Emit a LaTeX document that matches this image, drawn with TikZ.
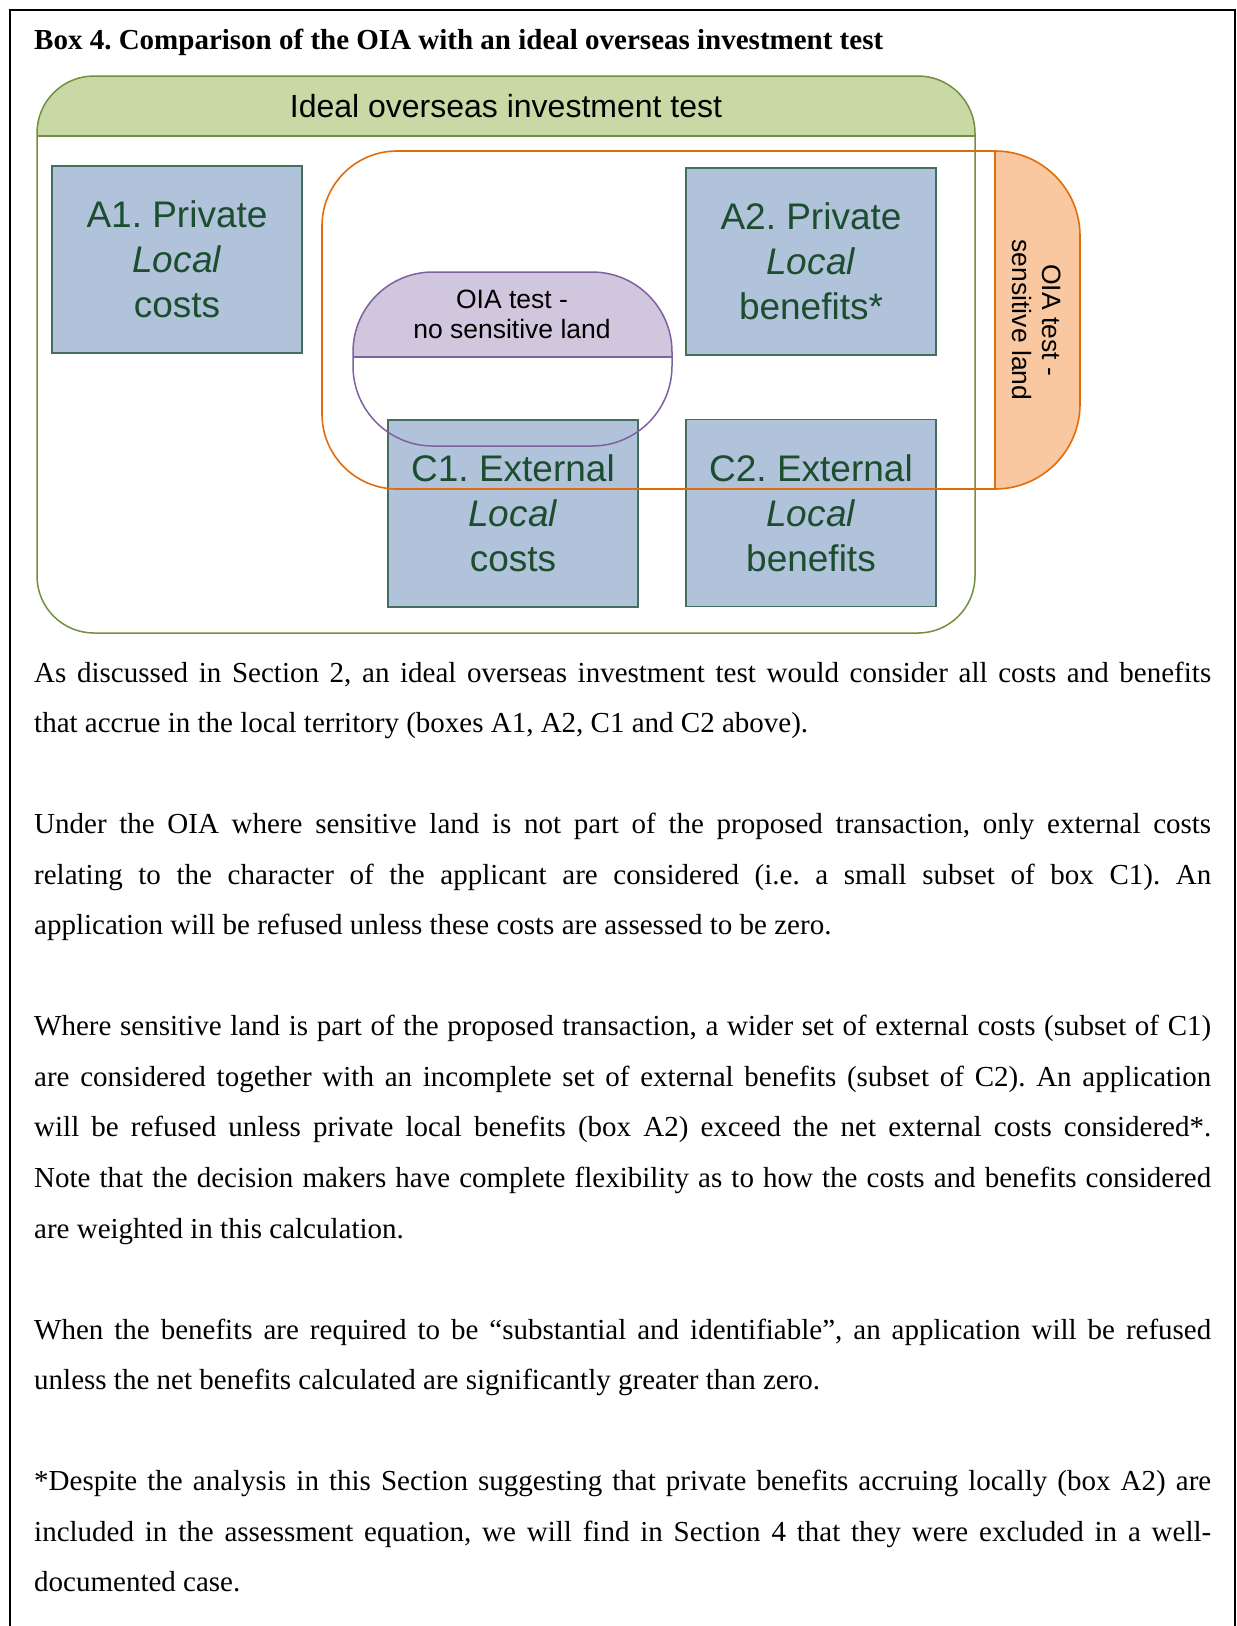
\documentclass[tikz,border=0pt]{standalone}
\usepackage{fontspec}
\setmainfont{Liberation Serif}
\newfontfamily\arialf{Liberation Sans}
\definecolor{boxfill}{HTML}{B0C3DB}
\definecolor{boxdraw}{HTML}{466E5F}
\definecolor{textgreen}{HTML}{1B4D2E}
\definecolor{greenfill}{HTML}{C8D9A6}
\definecolor{greendraw}{HTML}{73903F}
\definecolor{orangedraw}{HTML}{E36C0A}
\definecolor{orangefill}{HTML}{FAC8A0}
\definecolor{purpfill}{HTML}{D0C6DD}
\definecolor{purpdraw}{HTML}{7E62A0}
\frenchspacing
\begin{document}
\frenchspacing
\begin{tikzpicture}[x=1pt,y=-1pt,
  blk/.style={draw=boxdraw, fill=boxfill, line width=1.1pt, minimum width=250pt, minimum height=187pt,
    align=center, text=textgreen, font=\arialf\fontsize{37}{45}\selectfont, inner sep=0pt},
  lbl/.style={align=center, text=black, font=\arialf\fontsize{26.5}{30}\selectfont, inner sep=0pt},
  bodyj/.style={anchor=base west, inner sep=0pt, font=\fontsize{29}{34}\selectfont\frenchspacing},
]
\useasboundingbox (0,0) rectangle (1237,1626);
\fill[white] (0,0) rectangle (1237,1626);
% frame
\draw[line width=1.8pt] (10,1660) -- (10,10) -- (1235,10) -- (1235,1660);
% title
\node[anchor=base west, inner sep=0pt, font=\bfseries\fontsize{29}{34}\selectfont] (title) at (34,49)
  {Box 4. Comparison of the OIA with an ideal overseas investment test};
% green box
\fill[white, rounded corners=57pt] (37,76) rectangle (975,633);
\begin{scope}
  \clip (0,0) rectangle (1237,136);
  \fill[greenfill, rounded corners=57pt] (37,76) rectangle (975,633);
\end{scope}
\draw[greendraw, line width=1.5pt] (37,136) -- (975,136);
\draw[greendraw, line width=1.5pt, rounded corners=57pt] (37,76) rectangle (975,633);
\node[lbl, font=\arialf\fontsize{32}{36}\selectfont] (ideal) at (506,106) {Ideal overseas investment test};
% blue boxes
\node[blk] (a1) at (177,259.5) {A1. Private\\\textit{Local}\\costs};
\node[blk] (a2) at (811,261.5) {A2. Private\\\textit{Local}\\benefits*};
\node[blk] (c1) at (513,513.5) {C1. External\\\textit{Local}\\costs};
\node[blk] (c2) at (811,513) {C2. External\\\textit{Local}\\benefits};
% orange shape
\def\orangepath{(700,151) [rounded corners=75pt] -- (322,151) -- (322,489) -- (700,489) [rounded corners=85pt] -- (1080,489) -- (1080,151) -- cycle}
\begin{scope}
  \clip (995,100) rectangle (1200,600);
  \fill[orangefill] \orangepath;
\end{scope}
\draw[orangedraw, line width=1.6pt] \orangepath;
\draw[orangedraw, line width=1.6pt] (995,151) -- (995,489);
\node[lbl, rotate=-90] (sens) at (1037,320) {OIA test -\\sensitive land};
% purple shape
\begin{scope}
  \clip (0,0) rectangle (1237,357);
  \fill[purpfill, rounded corners=80pt] (353,272) rectangle (672,446);
\end{scope}
\draw[purpdraw, line width=1.5pt, rounded corners=80pt] (353,272) rectangle (672,446);
\draw[purpdraw, line width=1.5pt] (353,357) -- (672,357);
\node[lbl] (nosens) at (512,314) {OIA test -\\no sensitive land};
% body text
\node[bodyj] (t1) at (34,682) {\makebox[1177pt][s]{As discussed in Section 2, an ideal overseas investment test would consider all costs and benefits}};
\node[bodyj] (t2) at (34,732.55) {that accrue in the local territory (boxes A1, A2, C1 and C2 above).};
\node[bodyj] (t3) at (34,833.65) {\makebox[1177pt][s]{Under the OIA where sensitive land is not part of the proposed transaction, only external costs}};
\node[bodyj] (t4) at (34,884.2) {\makebox[1177pt][s]{relating to the character of the applicant are considered (i.e. a small subset of box C1). An}};
\node[bodyj] (t5) at (34,934.75) {application will be refused unless these costs are assessed to be zero.};
\node[bodyj] (t6) at (34,1035.85) {\makebox[1177pt][s]{Where sensitive land is part of the proposed transaction, a wider set of external costs (subset of C1)}};
\node[bodyj] (t7) at (34,1086.4) {\makebox[1177pt][s]{are considered together with an incomplete set of external benefits (subset of C2). An application}};
\node[bodyj] (t8) at (34,1136.95) {\makebox[1177pt][s]{will be refused unless private local benefits (box A2) exceed the net external costs considered*.}};
\node[bodyj] (t9) at (34,1187.5) {\makebox[1177pt][s]{Note that the decision makers have complete flexibility as to how the costs and benefits considered}};
\node[bodyj] (t10) at (34,1238.05) {are weighted in this calculation.};
\node[bodyj] (t11) at (34,1339.15) {\makebox[1177pt][s]{When the benefits are required to be “substantial and identifiable”, an application will be refused}};
\node[bodyj] (t12) at (34,1389.7) {unless the net benefits calculated are significantly greater than zero.};
\node[bodyj] (t13) at (34,1490.8) {\makebox[1177pt][s]{*Despite the analysis in this Section suggesting that private benefits accruing locally (box A2) are}};
\node[bodyj] (t14) at (34,1541.35) {\makebox[1177pt][s]{included in the assessment equation, we will find in Section 4 that they were excluded in a well-}};
\node[bodyj] (t15) at (34,1591.9) {documented case.};
\end{tikzpicture}
\end{document}
